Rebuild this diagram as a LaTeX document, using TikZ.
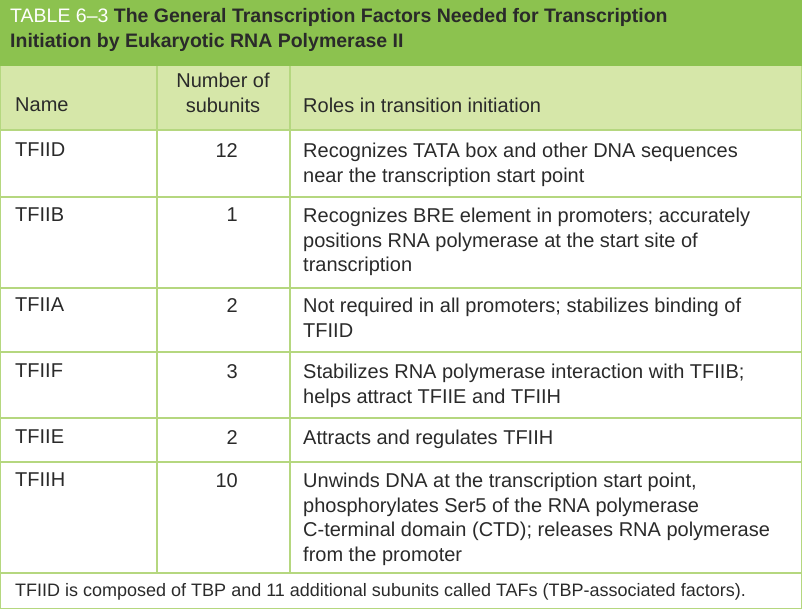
\documentclass[tikz,border=0pt]{standalone}
\usepackage{fontspec}
\setmainfont{Liberation Sans}
\definecolor{titlegreen}{HTML}{8CC24F}
\definecolor{headgreen}{HTML}{D6E7A9}
\definecolor{linegreen}{HTML}{B5D77F}
\definecolor{txt}{HTML}{2A2A2A}
\begin{document}
\begin{tikzpicture}[x=1pt,y=-1pt,
  cell/.style={anchor=north west,inner sep=0pt,text=txt,font=\fontsize{20}{24.5}\selectfont,align=left},
  num/.style={anchor=north east,inner sep=0pt,text=txt,font=\fontsize{20}{24.5}\selectfont},
  grid/.style={draw=linegreen,line width=1.3pt}]
\useasboundingbox (0,0) rectangle (802,609);
\fill[titlegreen] (0,0) rectangle (802,66);
\fill[headgreen] (0,66) rectangle (802,130);
\node[anchor=north west,inner sep=0pt,align=left,font=\bfseries\fontsize{19.5}{25}\selectfont,text=txt] (title) at (10,8)
 {\textcolor{white}{\mdseries TABLE 6–3} The General Transcription Factors Needed for Transcription\\Initiation by Eukaryotic RNA Polymerase II};
% grid
\foreach \y in {130,197,288,352,418,462,573} \draw[grid] (0,\y) -- (802,\y);
\draw[grid] (157,66) -- (157,573);
\draw[grid] (290,66) -- (290,573);
\draw[grid] (0.6,66) -- (0.6,609);
\draw[grid] (801.4,66) -- (801.4,609);
\draw[grid] (0,608.4) -- (802,608.4);
% header
\node[cell] (h1) at (15,98) {Name};
\node[cell,align=center,anchor=north] (h2) at (223,73) {Number of\\subunits};
\node[cell] (h3) at (303,98) {Roles in transition initiation};
% rows
\node[cell] (n1) at (15,143) {TFIID};
\node[num] (s1) at (238,143) {12};
\node[cell] (r1) at (303,143) {Recognizes TATA box and other DNA sequences\\near the transcription start point};
\node[cell] (n2) at (15,208) {TFIIB};
\node[num] (s2) at (238,208) {1};
\node[cell] (r2) at (303,208) {Recognizes BRE element in promoters; accurately\\positions RNA polymerase at the start site of\\transcription};
\node[cell] (n3) at (15,298) {TFIIA};
\node[num] (s3) at (238,298) {2};
\node[cell] (r3) at (303,298) {Not required in all promoters; stabilizes binding of\\TFIID};
\node[cell] (n4) at (15,364) {TFIIF};
\node[num] (s4) at (238,364) {3};
\node[cell] (r4) at (303,364) {Stabilizes RNA polymerase interaction with TFIIB;\\helps attract TFIIE and TFIIH};
\node[cell] (n5) at (15,430) {TFIIE};
\node[num] (s5) at (238,430) {2};
\node[cell] (r5) at (303,430) {Attracts and regulates TFIIH};
\node[cell] (n6) at (15,473) {TFIIH};
\node[num] (s6) at (238,473) {10};
\node[cell] (r6) at (303,473) {Unwinds DNA at the transcription start point,\\phosphorylates Ser5 of the RNA polymerase\\C-terminal domain (CTD); releases RNA polymerase\\from the promoter};
\node[cell,font=\fontsize{18}{20}\selectfont] (foot) at (15,583) {TFIID is composed of TBP and 11 additional subunits called TAFs (TBP-associated factors).};
\end{tikzpicture}
\end{document}
